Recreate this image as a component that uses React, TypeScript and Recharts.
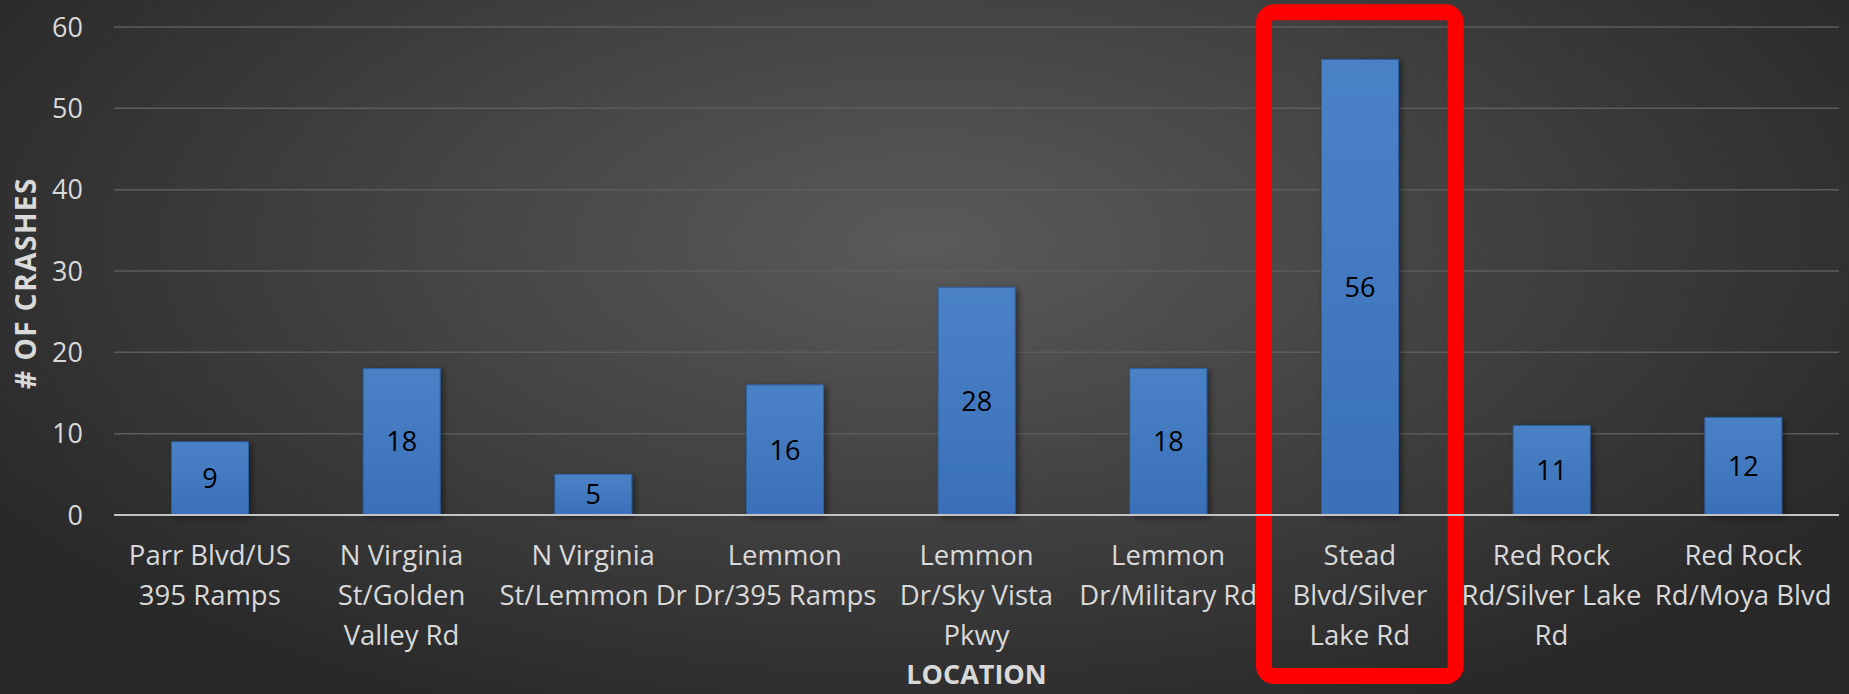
import { BarChart, Bar, XAxis, YAxis, CartesianGrid, LabelList, ReferenceArea } from 'recharts';

// locations, with the line breaks used under the axis
const locations = [
  'Parr Blvd/US\n395 Ramps',
  'N Virginia\nSt/Golden\nValley Rd',
  'N Virginia\nSt/Lemmon Dr',
  'Lemmon\nDr/395 Ramps',
  'Lemmon\nDr/Sky Vista\nPkwy',
  'Lemmon\nDr/Military Rd',
  'Stead\nBlvd/Silver\nLake Rd',
  'Red Rock\nRd/Silver Lake\nRd',
  'Red Rock\nRd/Moya Blvd',
];
const crashes = [9, 18, 5, 16, 28, 18, 56, 11, 12];
const yTicks = [0, 10, 20, 30, 40, 50, 60];
const highlighted = locations[6];

const data = locations.map((location, i) => ({ location, crashes: crashes[i] }));

const FONT = '"Open Sans", sans-serif';
const TEXT = '#d9d9d9';

function LocationTick({ x, y, payload }: any) {
  const lines = String(payload.value).split('\n');
  return (
    <text x={x} y={y} textAnchor="middle" fill={TEXT} fontSize={27.5} fontFamily={FONT}>
      {lines.map((line, i) => (
        <tspan key={i} x={x} dy={i === 0 ? 50 : 40}>
          {line}
        </tspan>
      ))}
    </text>
  );
}

function YTitle({ viewBox }: any) {
  const cx = viewBox.x + 25;
  const cy = viewBox.y + viewBox.height / 2 + 12;
  return (
    <text
      x={cx}
      y={cy}
      transform={`rotate(-90, ${cx}, ${cy})`}
      textAnchor="middle"
      dominantBaseline="central"
      fill={TEXT}
      fontSize={28}
      fontWeight={700}
      letterSpacing={1.5}
      fontFamily={FONT}
    >
      # OF CRASHES
    </text>
  );
}

function Highlight({ x, y, width, height }: any) {
  return <rect x={x} y={y} width={width} height={height} rx={10} ry={10} fill="none" stroke="#ff0000" strokeWidth={16} />;
}

export default function App() {
  return (
    <div
      style={{
        position: 'absolute',
        left: 0,
        top: 0,
        width: 1849,
        height: 694,
        background: 'radial-gradient(ellipse 60% 75% at 50% 35%, #5a5a5a 0%, #444 45%, #282828 100%)',
        fontFamily: FONT,
      }}
    >
      <BarChart width={1849} height={694} data={data} margin={{ top: 27, right: 10, left: 0, bottom: 0 }} barCategoryGap="30%">
        <defs>
          <linearGradient id="barFill" x1="0" y1="0" x2="0" y2="1">
            <stop offset="0%" stopColor="#4b82c6" />
            <stop offset="100%" stopColor="#3a70b9" />
          </linearGradient>
          <filter id="barShadow" x="-20%" y="-5%" width="150%" height="115%">
            <feDropShadow dx={3} dy={2} stdDeviation={3} floodColor="#000" floodOpacity={0.45} />
          </filter>
        </defs>
        <CartesianGrid vertical={false} stroke="#5c5c5c" strokeWidth={1.5} />
        <YAxis
          width={114}
          domain={[0, 60]}
          ticks={yTicks}
          axisLine={false}
          tickLine={false}
          tickSize={0}
          tickMargin={31}
          tick={{ fill: TEXT, fontSize: 27, fontFamily: FONT }}
          label={{ content: <YTitle /> }}
        />
        <XAxis
          dataKey="location"
          height={179}
          interval={0}
          tickLine={false}
          tickSize={0}
          tickMargin={0}
          axisLine={{ stroke: '#c4c4c4', strokeWidth: 2 }}
          tick={<LocationTick />}
          label={{ value: 'LOCATION', position: 'insideBottom', offset: 10, fill: TEXT, fontSize: 27, fontWeight: 700, fontFamily: FONT }}
        />
        <Bar dataKey="crashes" fill="url(#barFill)" stroke="#2f5f9f" strokeWidth={1} filter="url(#barShadow)" isAnimationActive={false}>
          <LabelList dataKey="crashes" position="center" fill="#000" fontSize={27} fontFamily={FONT} />
        </Bar>
        <ReferenceArea x1={highlighted} x2={highlighted} y1={-19.8} y2={61.8} ifOverflow="visible" shape={<Highlight />} />
      </BarChart>
    </div>
  );
}
